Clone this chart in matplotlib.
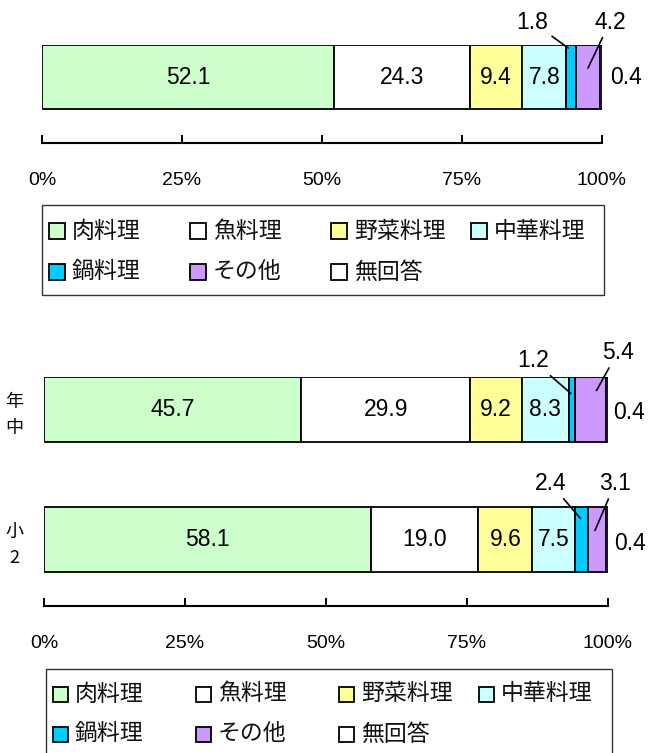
import numpy as np
import matplotlib
matplotlib.use("Agg")
import matplotlib.pyplot as plt
from matplotlib import transforms, font_manager
from matplotlib.patches import Rectangle

# ---- data -------------------------------------------------------------
categories = ["肉料理", "魚料理", "野菜料理", "中華料理", "鍋料理", "その他", "無回答"]
total_values = [52.1, 24.3, 9.4, 7.8, 1.8, 4.2, 0.4]
group_labels = ["小\n2", "年\n中"]
group_values = [
    [58.1, 19.0, 9.6, 7.5, 2.4, 3.1, 0.4],   # 小2
    [45.7, 29.9, 9.2, 8.3, 1.2, 5.4, 0.4],   # 年中
]
tick_values = [0, 25, 50, 75, 100]
tick_labels = ["0%", "25%", "50%", "75%", "100%"]

# ---- style ------------------------------------------------------------
colors = ["#CCFFCC", "#FFFFFF", "#FFFF99", "#CCFFFF", "#00CCFF", "#CC99FF", "#FFFFFF"]
installed = {f.name for f in font_manager.fontManager.ttflist}

CJK = ["Noto Sans CJK JP", "DejaVu Sans"]
NUM, NUM_SIZE = ["Liberation Sans"], 16.5
if "Liberation Sans Narrow" in installed:
    TICK, TICK_SIZE = ["Liberation Sans Narrow"], 15
else:
    TICK, TICK_SIZE = ["Liberation Sans"], 14

W, H = 648, 753
fig = plt.figure(figsize=(W / 100, H / 100), dpi=100)


def frame(left, top, right, bottom):
    return [left / W, 1 - bottom / H, (right - left) / W, (bottom - top) / H]


def style_axis(ax):
    ax.set_xlim(0, 100)
    for side in ("top", "right", "left"):
        ax.spines[side].set_visible(False)
    ax.spines["bottom"].set_linewidth(1.5)
    ax.set_xticks(tick_values)
    ax.set_xticklabels(tick_labels, family=TICK, fontsize=TICK_SIZE)
    ax.tick_params(axis="x", direction="in", length=6, width=1.4, pad=21)
    ax.set_facecolor("none")


# outside labels: segment index -> (tip dx, tip dy, text dx, text dy, leader)
def draw_bar(ax, y, values, height, outside):
    vals = np.asarray(values, dtype=float)
    widths = vals / vals.sum() * 100
    lefts = np.concatenate([[0], np.cumsum(widths)[:-1]])
    ax.barh([y] * len(vals), widths, left=lefts, height=height,
            color=colors, edgecolor="black", linewidth=1.3, zorder=2)
    for i, (v, w, l) in enumerate(zip(vals, widths, lefts)):
        cx = l + w / 2
        txt = f"{v:.1f}"
        if i in outside:
            tdx, tdy, ox, oy, leader = outside[i]
            tip = transforms.offset_copy(ax.transData, fig=fig, x=tdx, y=tdy, units="dots")
            ax.annotate(txt, xy=(cx, y), xycoords=tip, xytext=(ox, oy),
                        textcoords="offset pixels", ha="center", va="center",
                        family=NUM, fontsize=NUM_SIZE, annotation_clip=False,
                        arrowprops=dict(arrowstyle="-", lw=1.2, color="black",
                                        shrinkA=1, shrinkB=0) if leader else None)
        else:
            ax.text(cx, y, txt, ha="center", va="center", family=NUM,
                    fontsize=NUM_SIZE, zorder=3)


def draw_legend(left, top, right, bottom, xs, rows, sq):
    box = Rectangle((left / W, 1 - bottom / H), (right - left) / W, (bottom - top) / H,
                    transform=fig.transFigure, facecolor="white", edgecolor="#333333",
                    linewidth=1.0, zorder=1)
    fig.patches.append(box)
    for k, (name, col) in enumerate(zip(categories, colors)):
        r, c = divmod(k, 4)
        x0, yc = xs[c], rows[r]
        fig.patches.append(Rectangle((x0 / W, 1 - (yc + sq / 2) / H), sq / W, sq / H,
                                     transform=fig.transFigure, facecolor=col,
                                     edgecolor="black", linewidth=1.3, zorder=2))
        fig.text((x0 + sq + 7) / W, 1 - yc / H, name, family=CJK, fontsize=16.5,
                 ha="left", va="center", color="#111111")


# ---- overall bar -------------------------------------------------------
ax1 = fig.add_axes(frame(42, 45, 602, 143))
style_axis(ax1)
ax1.set_ylim(-1.031, 0.5)
ax1.set_yticks([])
draw_bar(ax1, 0, total_values, 1.0, {
    4: (-3, 29, -36, 26, True),
    5: (0, 9, 22, 46, True),
    6: (0, 0, 25, 0, False),
})
draw_legend(42, 205, 604, 295, [49, 190, 331, 471], [231, 272], 16)

# ---- by group ------------------------------------------------------------
ax2 = fig.add_axes(frame(44, 377, 608, 606))
style_axis(ax2)
ax2.set_ylim(-0.512, 1.25)
ax2.set_yticks([0, 1])
ax2.set_yticklabels(group_labels, family=CJK, fontsize=13, linespacing=1.55,
                    multialignment="center")
ax2.tick_params(axis="y", length=0, pad=15)
draw_bar(ax2, 1, group_values[1], 0.5, {
    4: (-1, 16, -38, 33, True),
    5: (6, 19, 21, 38, True),
    6: (0, 0, 22, -3, False),
})
draw_bar(ax2, 0, group_values[0], 0.5, {
    4: (-1, 21, -30, 35, True),
    5: (-2, 9, 20, 47, True),
    6: (0, 0, 23, -4, False),
})
draw_legend(46, 669, 612, 770, [53, 196, 339, 479], [694, 734], 15)

fig.savefig("out.png", dpi=100, facecolor="white")
